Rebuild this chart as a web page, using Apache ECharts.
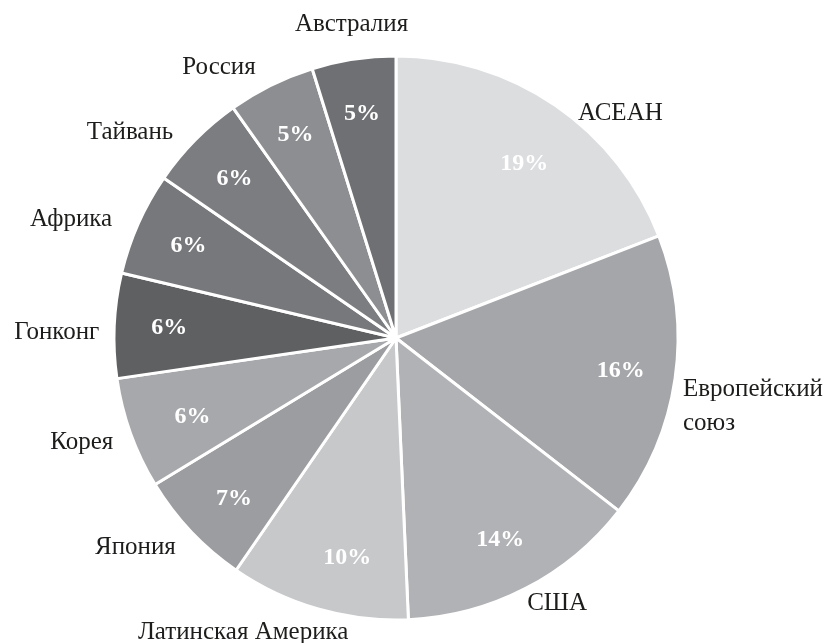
<!DOCTYPE html>
<html>
<head>
<meta charset="utf-8">
<script src="https://cdn.jsdelivr.net/npm/echarts@6/dist/echarts.min.js"></script>
<style>
  html, body { margin: 0; padding: 0; background: #fff; }
  #chart { width: 824px; height: 643px; }
</style>
</head>
<body>
<div id="chart"></div>
<script>
// регионы и доли (%), по часовой стрелке от верха
const regions = ['АСЕАН', 'Европейский\nсоюз', 'США', 'Латинская Америка', 'Япония', 'Корея',
  'Гонконг', 'Африка', 'Тайвань', 'Россия', 'Австралия']
const shares = [19.1, 16.4, 13.8, 10.3, 6.7, 6.4, 6.0, 5.9, 5.6, 5.0, 4.8]
const sliceColors = ['#dcdddf', '#a5a6a9', '#b1b2b5', '#c7c8ca', '#9c9da0', '#a7a8ab',
  '#5f6062', '#77787b', '#7c7d80', '#8d8e91', '#6f7073']

// небольшие сдвиги подписей, как в оригинале
const nameShift = {
  'АСЕАН': [2, 16],
  'Европейский\nсоюз': [-17, 26],
  'США': [-18, 6],
  'Латинская Америка': [48, 14],
  'Япония': [7, 9],
  'Корея': [7, 6],
  'Гонконг': [10, 7],
  'Африка': [-2, 0],
  'Россия': [4, -9],
  'Австралия': [71, -25]
}
const pctShift = {
  'АСЕАН': [0, 13],
  'Латинская Америка': [14, 2],
  'Корея': [10, 2],
  'Япония': [3, 5]
}

const chart = echarts.init(document.getElementById('chart'))
const center = [396, 338]
const font = '"Liberation Serif", "DejaVu Serif", serif'

const shiftBy = (table) => (params) => {
  const s = table[regions[params.dataIndex]]
  return s ? { dx: s[0], dy: s[1] } : {}
}

const option = {
  animation: false,
  backgroundColor: '#fff',
  series: [
    {
      type: 'pie',
      center: center,
      radius: 282,
      startAngle: 90,
      clockwise: true,
      avoidLabelOverlap: false,
      data: regions.map((name, i) => ({
        name: name,
        value: shares[i],
        itemStyle: { color: sliceColors[i] }
      })),
      itemStyle: { borderColor: '#fff', borderWidth: 3 },
      label: {
        show: true,
        position: 'outside',
        formatter: '{b}',
        color: '#1d1d1b',
        fontFamily: font,
        fontSize: 25,
        lineHeight: 34
      },
      labelLine: { show: false, length: 10, length2: 10 },
      labelLayout: shiftBy(nameShift),
      emphasis: { disabled: true }
    },
    {
      // прозрачный слой только для подписей процентов
      type: 'pie',
      center: center,
      radius: [166, 282],
      startAngle: 90,
      clockwise: true,
      silent: true,
      avoidLabelOverlap: false,
      data: regions.map((name, i) => ({ name: name, value: shares[i] })),
      itemStyle: { color: 'rgba(0,0,0,0)', borderWidth: 0 },
      label: {
        show: true,
        position: 'inside',
        formatter: (p) => Math.round(p.value) + '%',
        color: '#fff',
        fontFamily: font,
        fontWeight: 'bold',
        fontSize: 24
      },
      labelLine: { show: false },
      labelLayout: shiftBy(pctShift),
      emphasis: { disabled: true }
    }
  ]
}
chart.setOption(option)
</script>
</body>
</html>
